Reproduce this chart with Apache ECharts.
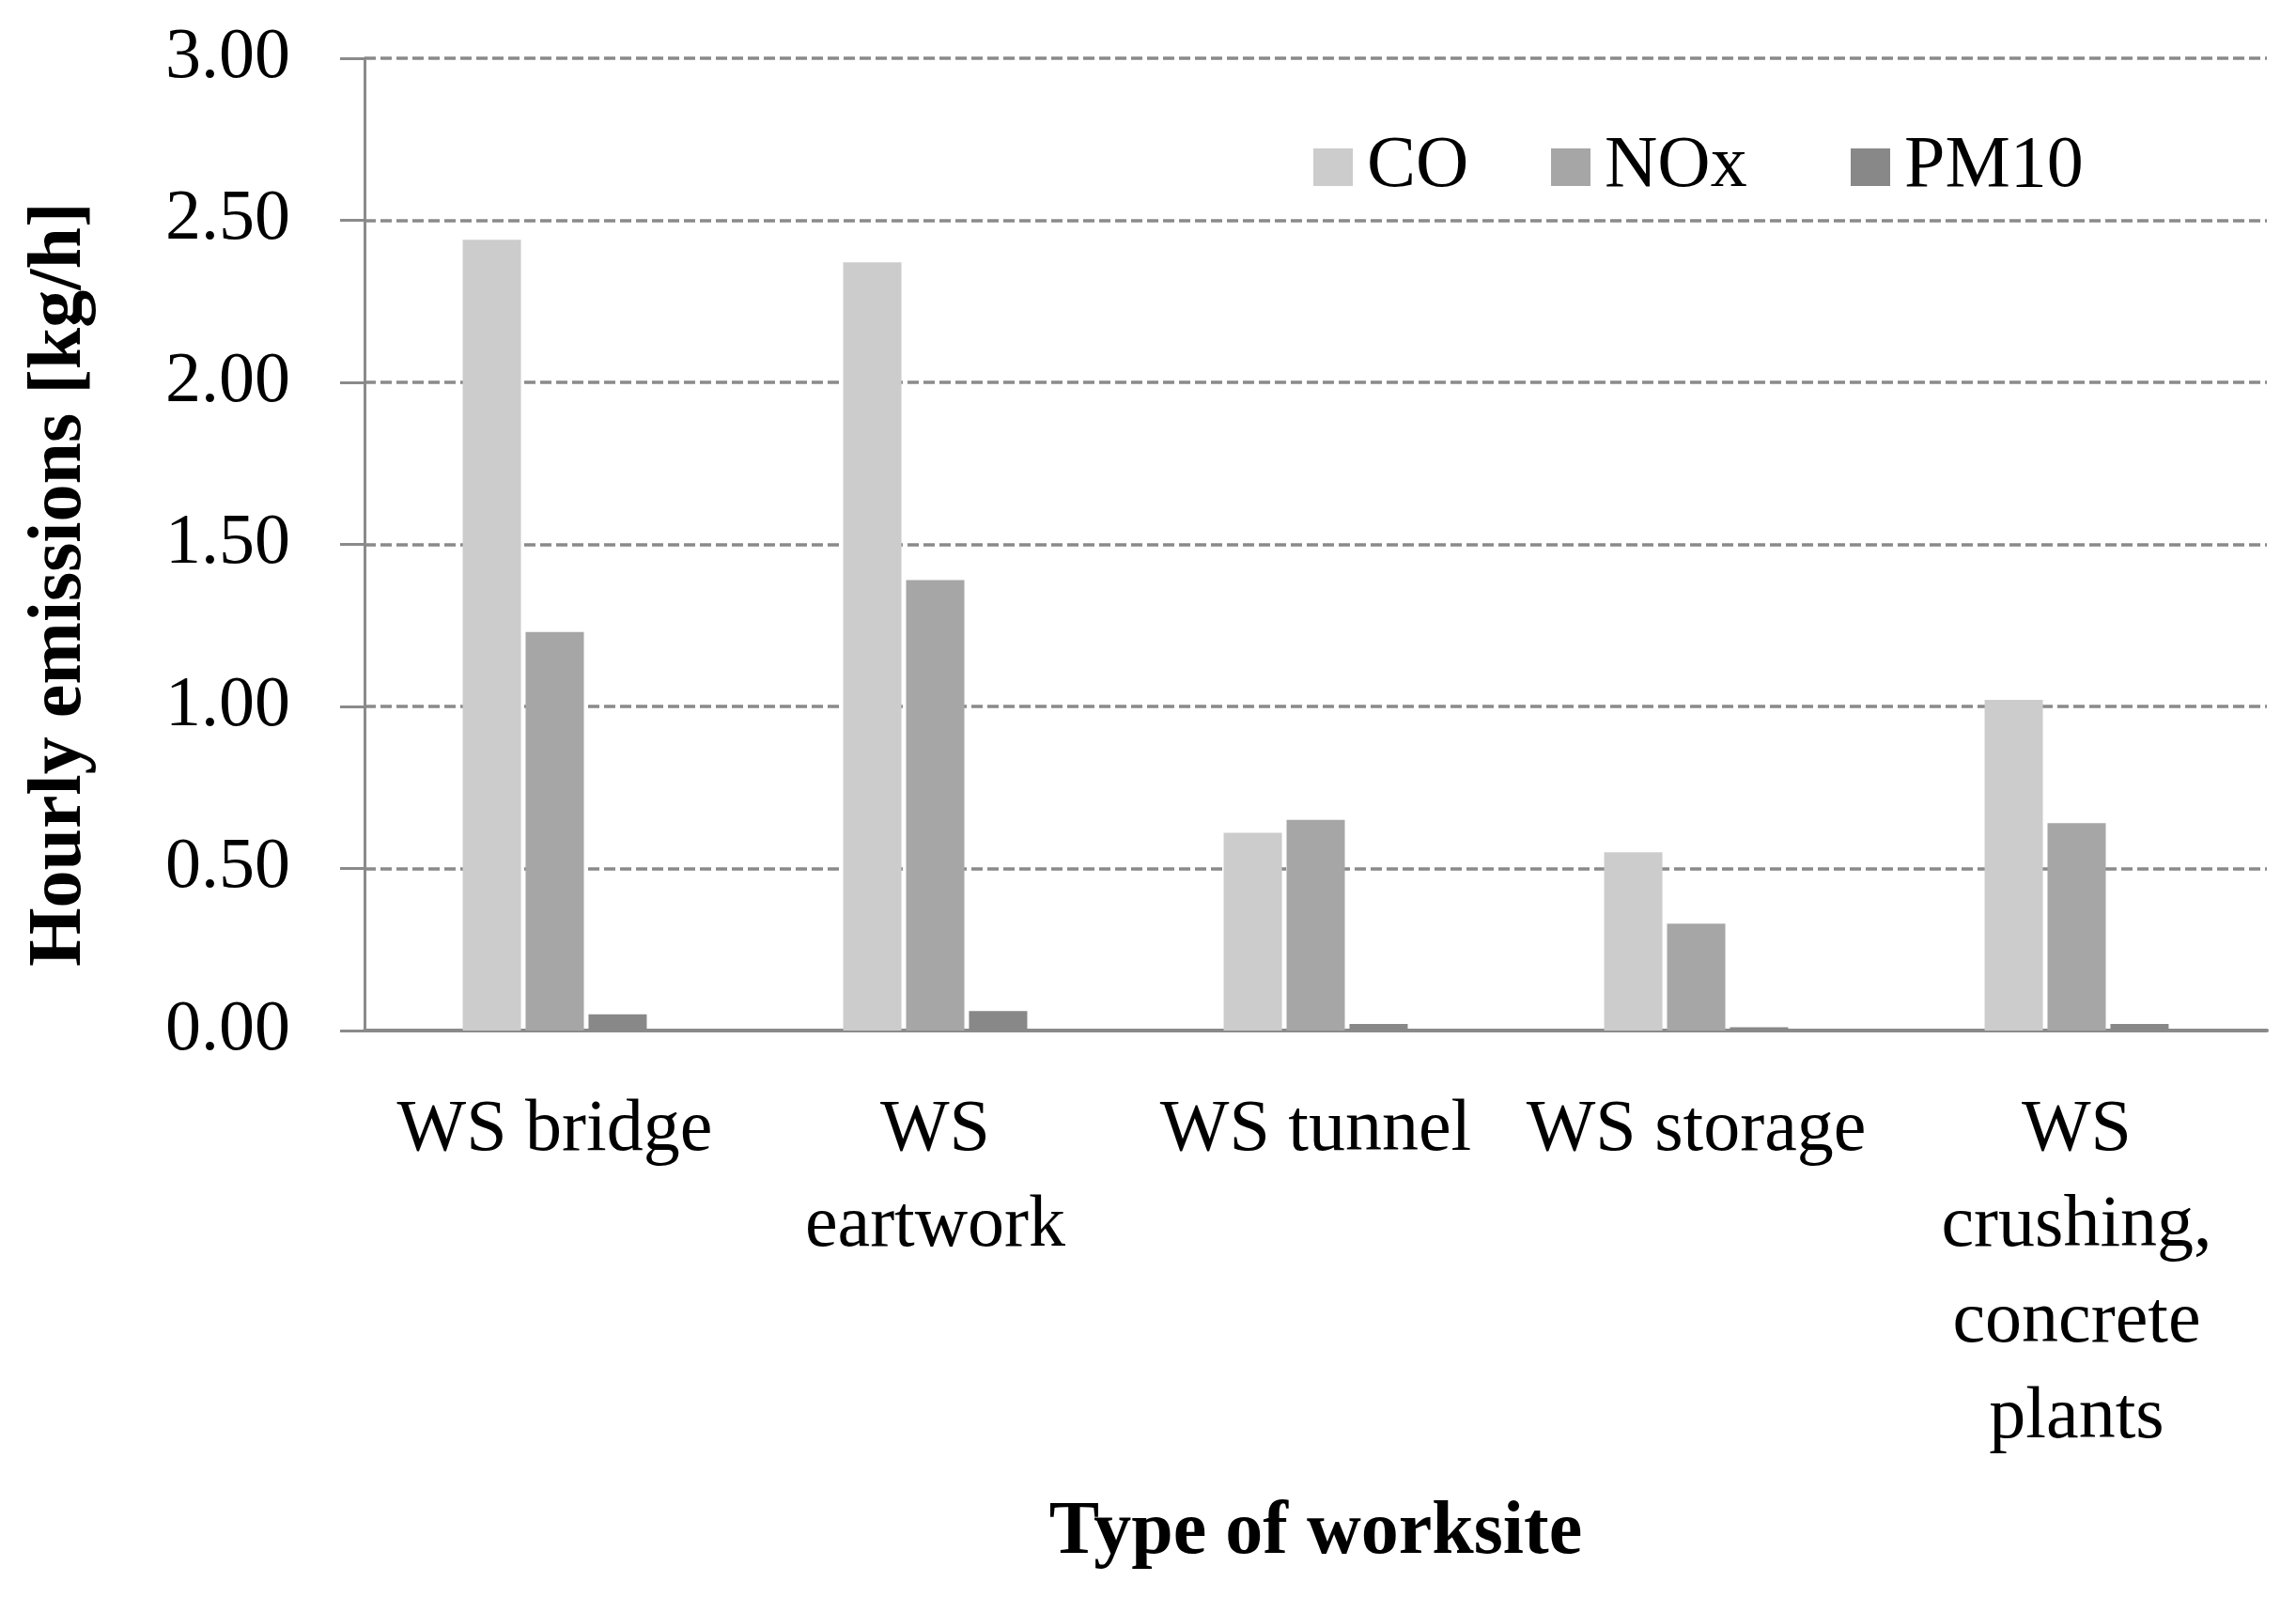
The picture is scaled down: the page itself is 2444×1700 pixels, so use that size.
<!DOCTYPE html>
<html lang="en">
<head>
<meta charset="UTF-8">
<title>Hourly emissions by worksite</title>
<script src="https://cdn.jsdelivr.net/npm/echarts@6/dist/echarts.min.js"></script>
<style>
  html, body { margin: 0; padding: 0; background: #fff; }
</style>
</head>
<body>
<div id="main" style="width: 2444px;height: 1700px;"></div>
<script type="text/javascript">
var categories = ['WS bridge', 'WS\neartwork', 'WS tunnel', 'WS storage', 'WS\ncrushing,\nconcrete\nplants'];
var seriesNames = ['CO', 'NOx', 'PM10'];
var coValues = [2.44, 2.37, 0.61, 0.55, 1.02];
var noxValues = [1.23, 1.39, 0.65, 0.33, 0.64];
var pm10Values = [0.05, 0.06, 0.02, 0.01, 0.02];
var colors = ['#CCCCCC', '#A6A6A6', '#888888'];

var font = 'Liberation Serif';
var gray = '#8A8A8A';

var myChart = echarts.init(document.getElementById('main'));

// one legend per series so each item sits where the reference puts it
function legendAt(name, left) {
    return {
        data: [name],
        left: left,
        top: 139,
        padding: 0,
        itemWidth: 42,
        itemHeight: 40,
        itemGap: 0,
        icon: 'rect',
        textStyle: { fontFamily: font, fontSize: 78, color: '#000', lineHeight: 40, padding: [0, 0, 0, 10] }
    };
}

function bar(name, values, color) {
    return {
        name: name,
        type: 'bar',
        data: values,
        barWidth: 62,
        barGap: '8%',
        itemStyle: { color: color },
        emphasis: { disabled: true }
    };
}

myChart.setOption({
    animation: false,
    backgroundColor: '#fff',
    legend: [
        legendAt(seriesNames[0], 1398),
        legendAt(seriesNames[1], 1651),
        legendAt(seriesNames[2], 1970)
    ],
    grid: { left: 388, right: 31, top: 62, bottom: 603, containLabel: false },
    xAxis: {
        type: 'category',
        data: categories,
        name: 'Type of worksite',
        nameLocation: 'middle',
        nameGap: 495,
        nameTextStyle: { fontFamily: font, fontSize: 80, fontWeight: 'bold', color: '#000', lineHeight: 80 },
        axisLine: { lineStyle: { color: gray, width: 4 } },
        axisTick: { show: false },
        axisLabel: {
            interval: 0,
            margin: 56,
            fontFamily: font,
            fontSize: 78,
            lineHeight: 102,
            color: '#000'
        }
    },
    yAxis: {
        type: 'value',
        min: 0,
        max: 3,
        interval: 0.5,
        axisLine: { show: true, lineStyle: { color: gray, width: 3 } },
        axisTick: { show: true, length: 26, lineStyle: { color: gray, width: 3 } },
        axisLabel: {
            margin: 79,
            fontFamily: font,
            fontSize: 76,
            color: '#000',
            formatter: function (v) { return v.toFixed(2); }
        },
        splitLine: { show: true, lineStyle: { color: gray, width: 3.5, type: [12, 5] } }
    },
    graphic: [{
        type: 'text',
        x: 64,
        y: 622,
        rotation: Math.PI / 2,
        style: {
            text: 'Hourly emissions [kg/h]',
            fontFamily: font,
            fontSize: 80,
            fontWeight: 'bold',
            fill: '#000',
            align: 'center',
            verticalAlign: 'middle'
        }
    }],
    series: [
        bar(seriesNames[0], coValues, colors[0]),
        bar(seriesNames[1], noxValues, colors[1]),
        bar(seriesNames[2], pm10Values, colors[2])
    ]
});
</script>
</body>
</html>
